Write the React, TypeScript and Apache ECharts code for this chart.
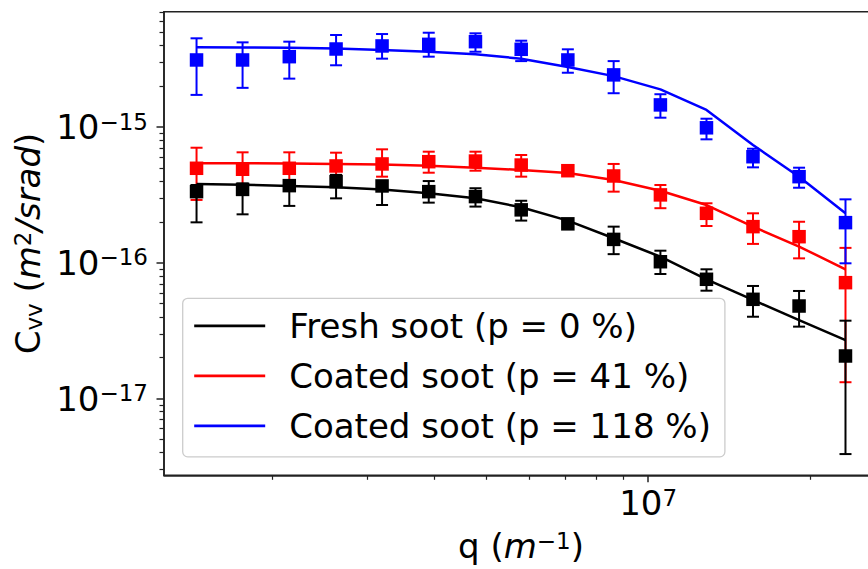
import React, { useEffect, useRef } from 'react';
import * as echarts from 'echarts';

// Scattering wave vector q (m^-1)
const qValues = [1.445e6, 1.76e6, 2.15e6, 2.627e6, 3.199e6, 3.907e6, 4.773e6, 5.806e6, 7.09e6, 8.627e6, 1.054e7, 1.284e7, 1.567e7, 1.909e7, 2.329e7];

// Fresh soot (p = 0 %)
const freshMeas = [3.35e-16, 3.48e-16, 3.71e-16, 3.97e-16, 3.69e-16, 3.35e-16, 3.08e-16, 2.46e-16, 1.94e-16, 1.49e-16, 1.02e-16, 7.57e-17, 5.39e-17, 4.81e-17, 2.06e-17];
const freshLow = [1.99e-16, 2.28e-16, 2.63e-16, 2.99e-16, 2.67e-16, 2.78e-16, 2.6e-16, 2.05e-16, 1.85e-16, 1.16e-16, 8.28e-17, 6.24e-17, 4.01e-17, 3.39e-17, 3.9e-18];
const freshHigh = [3.75e-16, 3.85e-16, 4.0e-16, 4.45e-16, 4.0e-16, 4.01e-16, 3.55e-16, 2.87e-16, 2.05e-16, 1.85e-16, 1.23e-16, 8.97e-17, 6.76e-17, 6.21e-17, 3.75e-17];
const freshModel = [3.81e-16, 3.77e-16, 3.69e-16, 3.61e-16, 3.48e-16, 3.26e-16, 2.99e-16, 2.57e-16, 2.05e-16, 1.52e-16, 1.11e-16, 7.57e-17, 5.33e-17, 3.79e-17, 2.7e-17];

// Coated soot (p = 41 %)
const c41Meas = [4.98e-16, 4.9e-16, 4.98e-16, 5.18e-16, 5.36e-16, 5.57e-16, 5.63e-16, 5.26e-16, 4.78e-16, 4.37e-16, 3.17e-16, 2.32e-16, 1.85e-16, 1.56e-16, 7.15e-17];
const c41Low = [2.91e-16, 3.75e-16, 3.88e-16, 4.45e-16, 4.32e-16, 4.62e-16, 4.78e-16, 4.32e-16, 4.55e-16, 3.35e-16, 2.53e-16, 1.87e-16, 1.38e-16, 1.08e-16, 1.32e-17];
const c41High = [7.06e-16, 6.53e-16, 6.53e-16, 6.49e-16, 6.87e-16, 6.6e-16, 6.6e-16, 6.24e-16, 5.0e-16, 5.36e-16, 3.75e-16, 2.75e-16, 2.32e-16, 2.01e-16, 1.29e-16];
const c41Model = [5.42e-16, 5.42e-16, 5.4e-16, 5.36e-16, 5.31e-16, 5.2e-16, 5.03e-16, 4.84e-16, 4.6e-16, 4.08e-16, 3.4e-16, 2.67e-16, 1.85e-16, 1.32e-16, 8.97e-17];

// Coated soot (p = 118 %)
const c118Meas = [3.13e-15, 3.13e-15, 3.31e-15, 3.77e-15, 3.97e-15, 4.08e-15, 4.27e-15, 3.75e-15, 3.13e-15, 2.43e-15, 1.46e-15, 9.9e-16, 6.06e-16, 4.32e-16, 1.98e-16];
const c118Low = [1.73e-15, 1.95e-15, 2.28e-15, 2.86e-15, 3.2e-15, 3.31e-15, 3.6e-15, 3.07e-15, 2.52e-15, 1.78e-15, 1.175e-15, 8.14e-16, 5.06e-16, 3.58e-16, 9.93e-17];
const c118High = [4.52e-15, 4.22e-15, 4.27e-15, 4.78e-15, 4.86e-15, 4.97e-15, 4.92e-15, 4.34e-15, 3.75e-15, 3.07e-15, 1.75e-15, 1.155e-15, 6.94e-16, 5.03e-16, 2.94e-16];
const c118Model = [3.88e-15, 3.87e-15, 3.85e-15, 3.8e-15, 3.71e-15, 3.6e-15, 3.45e-15, 3.2e-15, 2.78e-15, 2.38e-15, 1.9e-15, 1.34e-15, 7.4e-16, 4.32e-16, 2.32e-16];

const seriesNames = ['Fresh soot (p = 0 %)', 'Coated soot (p = 41 %)', 'Coated soot (p = 118 %)'];

// Axis ranges and tick values
const xMin = 1.257e6;
const xMax = 2.677e7;
const yMin = 2.72e-18;
const yMax = 7.1e-15;
const xMajorTicks = [1e7];
const yMajorTicks = [1e-17, 1e-16, 1e-15];

const FONT = 'DejaVu Sans';
const BLACK = '#000000';
const RED = '#ff0000';
const BLUE = '#0000ff';
const SPINE = '#222222';

function expLabel(v: number) {
  const e = Math.round(Math.log10(v));
  const s = e < 0 ? '\u2212' + String(-e) : String(e);
  return `{b|10}{s|${s}}`;
}

const labelRich = {
  b: { fontSize: 34, fontFamily: FONT, color: '#000', lineHeight: 34 },
  s: { fontSize: 23, fontFamily: FONT, color: '#000', lineHeight: 22, verticalAlign: 'top' },
};

export default function App() {
  const ref = useRef<HTMLDivElement>(null);
  useEffect(() => {
    if (!ref.current) return;
    const chart = echarts.init(ref.current, null, { renderer: 'svg' });

    const errSeries = (name: string, low: number[], high: number[], color: string, z: number) => ({
      type: 'custom',
      name,
      z,
      silent: true,
      data: qValues.map((q, i) => [q, low[i], high[i]]),
      encode: { x: 0, y: [1, 2] },
      renderItem: (params: any, api: any) => {
        const x = api.value(0);
        const a = api.coord([x, api.value(1)]);
        const b = api.coord([x, api.value(2)]);
        const c = 6;
        const st = { stroke: color, lineWidth: 2 };
        return {
          type: 'group',
          children: [
            { type: 'line', shape: { x1: a[0], y1: a[1], x2: b[0], y2: b[1] }, style: st },
            { type: 'line', shape: { x1: a[0] - c, y1: a[1], x2: a[0] + c, y2: a[1] }, style: st },
            { type: 'line', shape: { x1: b[0] - c, y1: b[1], x2: b[0] + c, y2: b[1] }, style: st },
          ],
        };
      },
    });

    const markSeries = (name: string, vals: number[], color: string, z: number) => ({
      type: 'scatter',
      name,
      z,
      silent: true,
      symbol: 'rect',
      symbolSize: 13.5,
      itemStyle: { color, opacity: 1 },
      data: qValues.map((q, i) => [q, vals[i]]),
    });

    const lineSeries = (name: string, vals: number[], color: string, z: number) => ({
      type: 'line',
      name,
      z,
      silent: true,
      symbol: 'none',
      showSymbol: false,
      color,
      itemStyle: { color },
      lineStyle: { color, width: 2.5 },
      data: qValues.map((q, i) => [q, vals[i]]),
    });

    const option: any = {
      animation: false,
      backgroundColor: '#ffffff',
      textStyle: { fontFamily: FONT },
      grid: {
        left: 164,
        top: 11.7,
        right: -10,
        bottom: 93.7,
        show: true,
        borderColor: SPINE,
        borderWidth: 1.6,
        backgroundColor: 'transparent',
        containLabel: false,
        outerBoundsMode: 'none',
      },
      xAxis: {
        type: 'log',
        logBase: 10,
        min: xMin,
        max: xMax,
        name: '{t|q (}{i|m}{s|\u22121}{t|)}',
        nameLocation: 'middle',
        nameGap: 54,
        nameTextStyle: {
          rich: {
            t: { fontSize: 34, fontFamily: FONT, color: '#000', lineHeight: 34 },
            i: { fontSize: 34, fontFamily: FONT, fontStyle: 'italic', color: '#000', lineHeight: 34 },
            s: { fontSize: 23, fontFamily: FONT, fontStyle: 'normal', color: '#000', lineHeight: 22, verticalAlign: 'top' },
          },
        },
        axisLine: { show: true, lineStyle: { color: SPINE, width: 1.6 } },
        axisTick: { show: true, length: 7, lineStyle: { color: SPINE, width: 1.5 }, customValues: xMajorTicks },
        minorTick: { show: true, splitNumber: 9, length: 4.5, lineStyle: { color: SPINE, width: 1.2 } },
        axisLabel: { margin: 11, formatter: expLabel, rich: labelRich, customValues: xMajorTicks },
        splitLine: { show: false },
        minorSplitLine: { show: false },
      },
      yAxis: {
        type: 'log',
        logBase: 10,
        min: yMin,
        max: yMax,
        name: '{t|C}{sub|vv}{t| (}{i|m}{s|2}{i|/srad}{t|)}',
        nameLocation: 'middle',
        nameRotate: 90,
        nameGap: 116,
        nameTextStyle: {
          rich: {
            t: { fontSize: 34, fontFamily: FONT, color: '#000', lineHeight: 34 },
            i: { fontSize: 34, fontFamily: FONT, fontStyle: 'italic', color: '#000', lineHeight: 34 },
            s: { fontSize: 23, fontFamily: FONT, color: '#000', lineHeight: 22, verticalAlign: 'top' },
            sub: { fontSize: 23, fontFamily: FONT, color: '#000', lineHeight: 22, verticalAlign: 'bottom' },
          },
        },
        axisLine: { show: true, lineStyle: { color: SPINE, width: 1.6 } },
        axisTick: { show: true, length: 7.5, lineStyle: { color: SPINE, width: 1.5 }, customValues: yMajorTicks },
        minorTick: { show: true, splitNumber: 9, length: 4.5, lineStyle: { color: SPINE, width: 1.2 } },
        axisLabel: { margin: 16, formatter: expLabel, rich: labelRich, customValues: yMajorTicks },
        splitLine: { show: false },
        minorSplitLine: { show: false },
      },
      legend: {
        data: [
          { name: seriesNames[0], itemStyle: { color: BLACK, borderWidth: 0 } },
          { name: seriesNames[1], itemStyle: { color: RED, borderWidth: 0 } },
          { name: seriesNames[2], itemStyle: { color: BLUE, borderWidth: 0 } },
        ],
        orient: 'vertical',
        left: 182.7,
        top: 298.3,
        icon: 'rect',
        itemWidth: 71,
        itemHeight: 2.8,
        itemGap: 16,
        padding: [10.5, 14, 14, 11.5],
        backgroundColor: 'rgba(255,255,255,0.8)',
        borderColor: '#cccccc',
        borderWidth: 1.3,
        borderRadius: 5,
        selectedMode: false,
        textStyle: { fontSize: 34, fontFamily: FONT, color: '#000', lineHeight: 34, padding: [0, 0, 0, 19] },
      },
      series: [
        errSeries('err41', c41Low, c41High, RED, 2),
        markSeries('pts41', c41Meas, RED, 2),
        errSeries('err0', freshLow, freshHigh, BLACK, 2),
        markSeries('pts0', freshMeas, BLACK, 2),
        errSeries('err118', c118Low, c118High, BLUE, 2),
        markSeries('pts118', c118Meas, BLUE, 2),
        lineSeries(seriesNames[0], freshModel, BLACK, 3),
        lineSeries(seriesNames[1], c41Model, RED, 3),
        lineSeries(seriesNames[2], c118Model, BLUE, 3),
      ],
    };
    chart.setOption(option);
    return () => chart.dispose();
  }, []);
  return <div ref={ref} style={{ position: 'fixed', left: 0, top: 0, width: 868, height: 569, background: '#fff' }} />;
}
